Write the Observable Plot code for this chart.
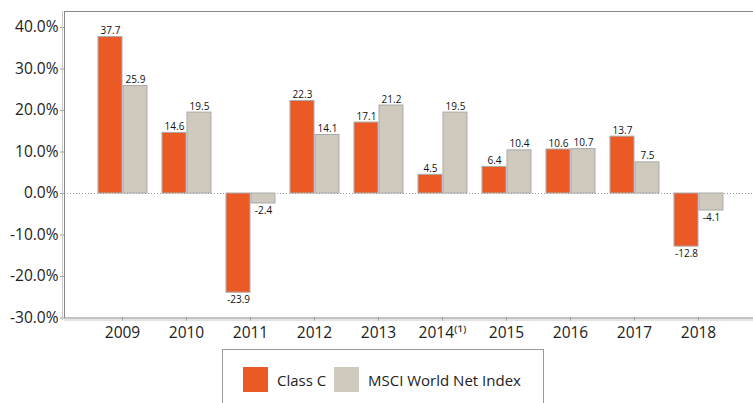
<!DOCTYPE html>
<html>
<head>
<meta charset="utf-8">
<script src="https://cdn.jsdelivr.net/npm/d3@7"></script>
<script src="https://cdn.jsdelivr.net/npm/@observablehq/plot@0.6"></script>
<style>
  html, body { margin: 0; padding: 0; background: #fff; }
  #wrap { position: relative; width: 753px; height: 403px; overflow: hidden; font-family: "Open Sans", sans-serif; }
  #legend { position: absolute; left: 222px; top: 349px; width: 322px; height: 80px; border: 1px solid #999; box-sizing: border-box; }
  .item { position: absolute; top: 17px; display: flex; align-items: center; font-size: 15px; color: #222; }
  .sw { width: 25px; height: 25px; margin-right: 9px; box-sizing: border-box; }
</style>
</head>
<body>
<div id="wrap"><div id="chart"></div><div id="legend"></div></div>
<script>
const years = ["2009","2010","2011","2012","2013","2014","2015","2016","2017","2018"];
const yearLabels = ["2009","2010","2011","2012","2013","2014⁽¹⁾","2015","2016","2017","2018"];
const seriesNames = ["Class C", "MSCI World Net Index"];
const classC = [37.7, 14.6, -23.9, 22.3, 17.1, 4.5, 6.4, 10.6, 13.7, -12.8];
const msci = [25.9, 19.5, -2.4, 14.1, 21.2, 19.5, 10.4, 10.7, 7.5, -4.1];
const yTicks = [-30, -20, -10, 0, 10, 20, 30, 40];
const colors = ["#EB5A25", "#D0C9BE"];

const rowsC = years.map((y, i) => ({year: y, value: classC[i]}));
const rowsM = years.map((y, i) => ({year: y, value: msci[i]}));

function labels(rows, dx) {
  return [
    Plot.text(rows.filter(d => d.value >= 0), {x: "year", y: "value", text: d => d.value.toFixed(1), dx, dy: -3, lineAnchor: "bottom", fontSize: 10, fill: "#111"}),
    Plot.text(rows.filter(d => d.value < 0), {x: "year", y: "value", text: d => d.value.toFixed(1), dx, dy: 3, lineAnchor: "top", fontSize: 10, fill: "#111"})
  ];
}

const chart = Plot.plot({
  width: 753,
  height: 345,
  marginLeft: 64,
  marginRight: 0,
  marginTop: 11,
  marginBottom: 27.5,
  style: {fontFamily: "Open Sans, sans-serif", background: "#fff"},
  x: {domain: years, range: [90, 730], padding: 0, label: null},
  y: {domain: [-30, 43.86], label: null},
  marks: [
    Plot.ruleY([0], {stroke: "#999", strokeDasharray: "1,2"}),
    Plot.barY(rowsC, {x: "year", y: "value", fill: colors[0], stroke: "#aaa", strokeWidth: 1, insetLeft: 8, insetRight: 32}),
    Plot.barY(rowsM, {x: "year", y: "value", fill: colors[1], stroke: "#aaa", strokeWidth: 1, insetLeft: 33, insetRight: 7}),
    ...labels(rowsC, -12),
    ...labels(rowsM, 13),
    Plot.ruleY([-30], {stroke: "#c8c8c8", dy: 2}),
    Plot.frame({stroke: "#888"}),
    Plot.axisY({ticks: yTicks, tickFormat: d => d.toFixed(1) + "%", tickSize: 4, tickPadding: 2, fontSize: 15.5, fill: "#222", stroke: "#999", label: null}),
    Plot.axisX({tickFormat: (d, i) => yearLabels[years.indexOf(d)], tickSize: 3, tickPadding: 6, fontSize: 15.5, fill: "#222", stroke: "#999", label: null})
  ]
});
document.getElementById("chart").appendChild(chart);
// light shadow line left of the frame
d3.select(chart).append("line")
  .attr("x1", 62.5).attr("x2", 62.5).attr("y1", 11).attr("y2", 320)
  .attr("stroke", "#c8c8c8");

const legend = document.getElementById("legend");
const pos = [20, 111];
seriesNames.forEach((n, i) => {
  const it = document.createElement("div");
  it.className = "item";
  it.style.left = pos[i] + "px";
  const sw = document.createElement("div");
  sw.className = "sw";
  sw.style.background = colors[i];
  it.appendChild(sw);
  const t = document.createElement("span");
  t.textContent = n;
  it.appendChild(t);
  legend.appendChild(it);
});
</script>
</body>
</html>
